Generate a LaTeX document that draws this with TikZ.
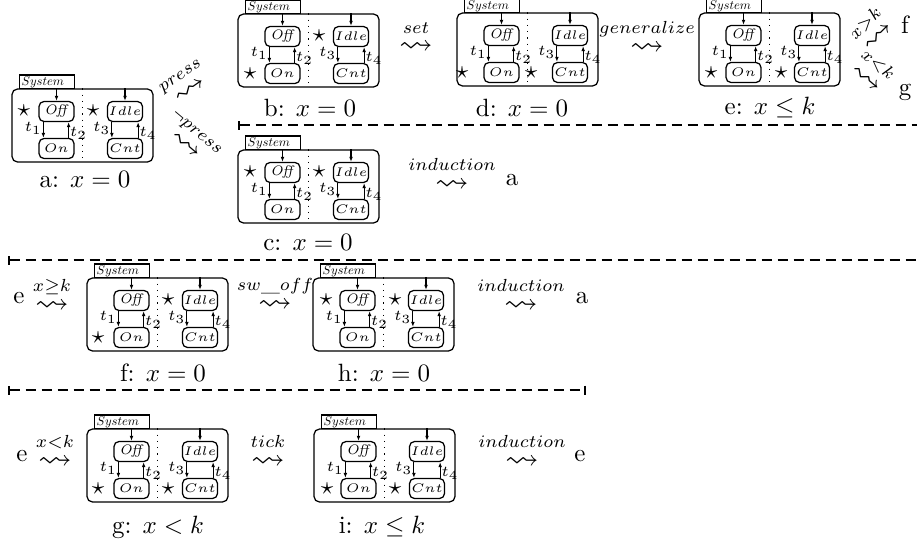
\documentclass[tikz,border=0pt]{standalone}
\usepackage{amssymb}
\usepackage{graphicx}
\usetikzlibrary{arrows.meta}
\tikzset{
  outerbox/.style={draw, rounded corners=2.2pt, minimum width=56.4pt, minimum height=29.2pt, inner sep=0pt, line width=0.5pt},
  tabbox/.style={draw, anchor=south west, inner xsep=0.8pt, inner ysep=0.4pt, text width=20.4pt, text height=3.7pt, text depth=0.9pt, align=left, line width=0.45pt},
  statebox/.style={draw, rounded corners=2pt, minimum width=14pt, minimum height=8pt, inner sep=0pt, line width=0.5pt, font=\fontsize{5.5}{6}\selectfont},
  trans/.style={-{Latex[length=2pt,width=1.5pt]}, line width=0.45pt},
  tlab/.style={inner sep=0.4pt, font=\fontsize{5.8}{6}\selectfont},
  divider/.style={dotted, line width=0.5pt},
  starnode/.style={inner sep=0pt},
  steplab/.style={inner sep=0pt, align=center},
  caption/.style={inner sep=0pt},
  sepline/.style={line width=0.8pt, dash pattern=on 4pt off 2.4pt},
  sepbar/.style={{Bar[width=3.6pt,line width=0.8pt]}-},
  sepbars/.style={{Bar[width=3.6pt,line width=0.8pt]}-{Bar[width=3.6pt,line width=0.8pt]}}
}
\newcommand\sq{\scalebox{1.35}[1.25]{$\leadsto$}}
\newcommand\stepto[1]{$\scriptstyle #1$\\[-3.8pt]\sq}
\newcommand\mychart[4]{%
\begin{scope}[shift={(#2,#3)}]
  \node[outerbox] (#1-sys) at (70.5,36.5) {};
  \node[tabbox] (#1-tab) at (7,0) {\resizebox{17pt}{!}{$System$}};
  \node[statebox] (#1-off) at (44.5,22.5) {\textit{Off}};
  \node[statebox] (#1-on) at (44.5,59.5) {$On$};
  \node[statebox] (#1-idle) at (113,22.5) {$Idle$};
  \node[statebox] (#1-cnt) at (113,59.5) {$Cnt$};
  \draw[divider] (#1-sys.north) -- (#1-sys.south);
  \draw[trans] (#1-sys.north -| #1-off.north) -- (#1-off.north);
  \draw[trans] (#1-sys.north -| #1-idle.north) -- (#1-idle.north);
  \draw[trans] ([xshift=2pt]#1-off.south west) -- node[tlab, left, pos=0.4] {$t_1$} ([xshift=2pt]#1-on.north west);
  \draw[trans] ([xshift=-2.4pt]#1-on.north east) -- node[tlab, right, pos=0.3] {$t_2$} ([xshift=-2.4pt]#1-off.south east);
  \draw[trans] ([xshift=2pt]#1-idle.south west) -- node[tlab, left, pos=0.4] {$t_3$} ([xshift=2pt]#1-cnt.north west);
  \draw[trans] ([xshift=-2pt]#1-cnt.north east) -- node[tlab, right, pos=0.3] {$t_4$} ([xshift=-2pt]#1-idle.south east);
  \foreach \sx/\sy [count=\si] in {#4} {\node[starnode] (#1-star\si) at (\sx,\sy) {$\star$};}
\end{scope}}
\begin{document}
\begin{tikzpicture}[x=0.4pt, y=-0.4pt]
\useasboundingbox (0,0) rectangle (917,547);
% charts
\mychart{a}{12}{89}{12/22, 81/22}
\mychart{b}{238}{14}{12/60, 81/22}
\mychart{d}{457}{13}{5/60, 74/60}
\mychart{e}{699}{13}{12/60, 82/60}
\mychart{c}{238}{150}{12/22, 81/22}
\mychart{f}{87}{278}{11/60, 81/22}
\mychart{h}{313}{278}{13/22, 82/22}
\mychart{g}{87}{429}{11/60, 81/60}
\mychart{i}{314}{429}{13/60, 81/60}
% captions
\node[caption] (a-cap) at (85,180) {a: $x=0$};
\node[caption] (b-cap) at (310,108) {b: $x=0$};
\node[caption] (d-cap) at (522,108) {d: $x=0$};
\node[caption] (e-cap) at (770,108) {e: $x\leq k$};
\node[caption] (c-cap) at (308,243) {c: $x=0$};
\node[caption] (f-cap) at (163,373) {f: $x=0$};
\node[caption] (h-cap) at (384,373) {h: $x=0$};
\node[caption] (g-cap) at (158,527) {g: $x<k$};
\node[caption] (i-cap) at (382,527) {i: $x\leq k$};
% steps
\node[steplab, rotate=35] (s-press) at (186,84) {\stepto{press}};
\node[steplab, rotate=-40] (s-npress) at (190,140) {\stepto{\neg press}};
\node[steplab] (s-set) at (416,38) {\stepto{set}};
\node[steplab] (s-gen) at (647,38) {\stepto{generalize}};
\node[steplab, rotate=45] (s-gtk) at (872,30) {\stepto{x>k}};
\node[steplab, rotate=-40] (s-ltk) at (872,72) {\stepto{x<k}};
\node[caption] (t-f) at (905,25) {f};
\node[caption] (t-g) at (905,92) {g};
\node[steplab] (s-ind1) at (452,175) {\stepto{induction}};
\node[caption] (t-a1) at (512,180) {a};
\node[caption] (t-e1) at (19,298) {e};
\node[steplab] (s-geq) at (52,296) {\stepto{x\geq k}};
\node[steplab] (s-swoff) at (275,295) {\stepto{sw\_off}};
\node[steplab] (s-ind2) at (521,296) {\stepto{induction}};
\node[caption] (t-a2) at (582,298) {a};
\node[caption] (t-e2) at (22,456) {e};
\node[steplab] (s-lt) at (55,452) {\stepto{x<k}};
\node[steplab] (s-tick) at (268,452) {\stepto{tick}};
\node[steplab] (s-ind3) at (522,452) {\stepto{induction}};
\node[caption] (t-e3) at (580,456) {e};
% separators
\coordinate (l1a) at (238,125);
\coordinate (l1b) at (917,125);
\coordinate (l2a) at (8,260);
\coordinate (l2b) at (917,260);
\coordinate (l3a) at (8,390);
\coordinate (l3b) at (586,390);
\draw[sepline, sepbar] (l1a) -- (l1b);
\draw[sepline, sepbar] (l2a) -- (l2b);
\draw[sepline, sepbars] (l3a) -- (l3b);
\end{tikzpicture}
\end{document}
